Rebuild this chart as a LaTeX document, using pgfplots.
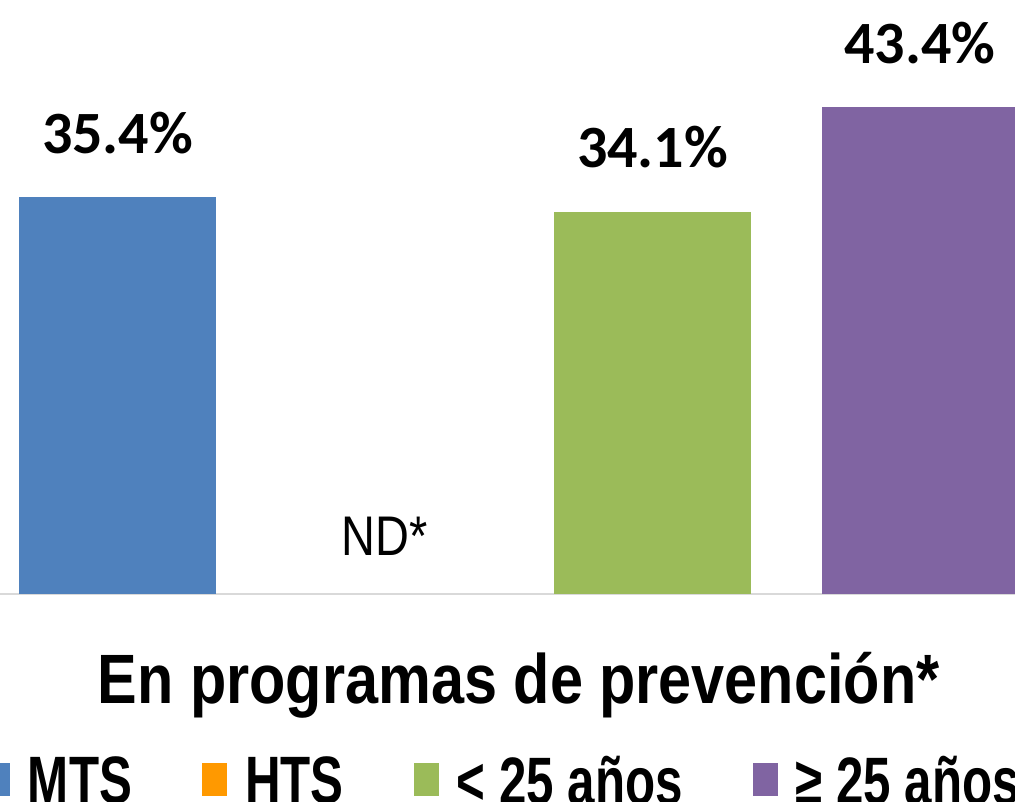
\documentclass[border=0pt]{standalone}
\usepackage{fontspec}
\usepackage{pgfplots}
\pgfplotsset{compat=1.18}
\setmainfont{Liberation Sans}
\newfontfamily\lblfont{Carlito}
\newfontfamily\catfont{Liberation Sans}[FakeStretch=0.85]
\newfontfamily\legfont{Liberation Sans}[FakeStretch=0.735]
\newfontfamily\ndfont{Liberation Sans}[FakeStretch=0.84]
\definecolor{cMTS}{HTML}{4F81BD}
\definecolor{cHTS}{HTML}{FF9900}
\definecolor{cJov}{HTML}{9BBB59}
\definecolor{cAdu}{HTML}{8064A2}
\begin{document}
\begin{tikzpicture}
\begin{axis}[
  scale only axis,
  width=761.25pt, height=445.5pt,
  xmin=-0.43925, xmax=3.35514,
  ymin=0, ymax=52.99,
  axis y line=none,
  axis x line*=bottom,
  x axis line style={draw=black!15, line width=1.5pt, -},
  xtick={1.5}, xticklabels={En programas de prevención*},
  major tick length=0pt, xtick style={draw=none},
  xticklabel style={font=\catfont\bfseries\fontsize{52.4}{60}\selectfont, anchor=base, yshift=-81.75pt},
  ybar, bar width=147.75pt, bar shift=0pt,
  clip=false,
  nodes near coords={\pgfmathprintnumber[assume math mode=true,fixed,fixed zerofill,precision=1]{\pgfplotspointmeta}\%},
  every node near coord/.append style={font=\lblfont\bfseries\fontsize{45}{54}\selectfont, anchor=base, yshift=33pt, text=black},
  legend columns=4,
  legend style={draw=none, fill=none, inner sep=0pt, outer sep=0pt, at={(0,0)}, anchor=north west, xshift=-11.25pt, yshift=-121.5pt, font=\legfont\bfseries\fontsize{50.3}{60}\selectfont, nodes={inner sep=0pt}, /tikz/every odd column/.append style={column sep=13.5pt}, /tikz/every even column/.append style={column sep=52.5pt}},
  legend image code/.code={\fill[#1,draw=none] (0pt,-11.25pt) rectangle (18.75pt,13.5pt);},
]
\addplot[fill=cMTS, draw=none] coordinates {(0,35.4)};
\addplot[fill=none, draw=none, nodes near coords={ND*},
  legend image code/.code={\fill[cHTS] (0pt,-11.25pt) rectangle (18.75pt,13.5pt);},
  every node near coord/.append style={font=\ndfont\fontsize{41.9}{50}\selectfont, yshift=-3.75pt}] coordinates {(1,0)};
\addplot[fill=cJov, draw=none] coordinates {(2,34.1)};
\addplot[fill=cAdu, draw=none] coordinates {(3,43.4)};
\legend{MTS, HTS, {< 25 años}, {≥ 25 años}}
\end{axis}
\pgfresetboundingbox
\useasboundingbox (current axis.south west) ++(0,-155.25pt) rectangle (current axis.north east);
\end{tikzpicture}
\end{document}
